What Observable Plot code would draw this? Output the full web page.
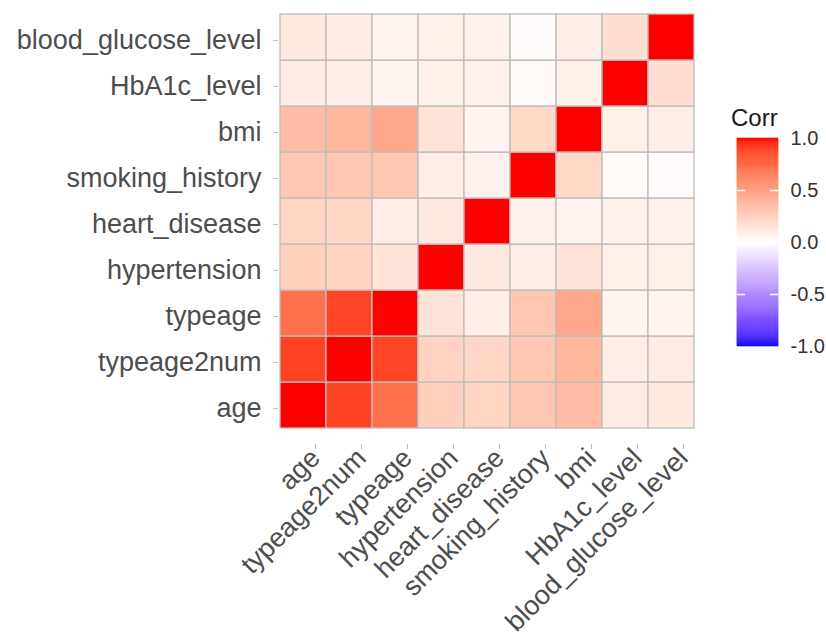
<!DOCTYPE html>
<html>
<head>
<meta charset="utf-8">
<script src="https://cdn.jsdelivr.net/npm/d3@7"></script>
<script src="https://cdn.jsdelivr.net/npm/@observablehq/plot@0.6"></script>
<style>
  html, body { margin: 0; padding: 0; background: #fff; }
  #wrap { position: relative; width: 826px; height: 641px; overflow: hidden; font-family: "Liberation Sans", Arial, sans-serif; }
  #wrap svg { position: absolute; top: 0; }
  #main svg { left: 0; }
  #legend svg { left: 700px; background: transparent; }
  #ltitle { position: absolute; left: 731px; top: 104px; font-size: 24px; color: #1a1a1a; font-family: "Liberation Sans", Arial, sans-serif; }
</style>
</head>
<body>
<div id="wrap">
  <div id="main"></div>
  <div id="legend"></div>
  <div id="ltitle">Corr</div>
</div>
<script>
// Variables (x order left→right, y order bottom→top)
const vars = ["age", "typeage2num", "typeage", "hypertension", "heart_disease",
              "smoking_history", "bmi", "HbA1c_level", "blood_glucose_level"];

// Correlation rows (columns in the same order as vars)
const age                 = [1.00, 0.89, 0.72, 0.25, 0.23, 0.30, 0.36, 0.10, 0.11];
const typeage2num         = [0.89, 1.00, 0.88, 0.24, 0.22, 0.30, 0.38, 0.09, 0.10];
const typeage             = [0.72, 0.88, 1.00, 0.15, 0.09, 0.30, 0.46, 0.05, 0.06];
const hypertension        = [0.25, 0.24, 0.15, 1.00, 0.12, 0.09, 0.15, 0.08, 0.08];
const heart_disease       = [0.23, 0.22, 0.09, 0.12, 1.00, 0.07, 0.06, 0.07, 0.07];
const smoking_history     = [0.30, 0.30, 0.30, 0.09, 0.07, 1.00, 0.21, 0.03, 0.02];
const bmi                 = [0.36, 0.38, 0.46, 0.15, 0.06, 0.21, 1.00, 0.08, 0.09];
const HbA1c_level         = [0.10, 0.09, 0.05, 0.08, 0.07, 0.03, 0.08, 1.00, 0.17];
const blood_glucose_level = [0.11, 0.10, 0.06, 0.08, 0.07, 0.02, 0.09, 0.17, 1.00];

const legendTicks = [-1, -0.5, 0, 0.5, 1];
const legendTitle = "Corr";

const rows = {age, typeage2num, typeage, hypertension, heart_disease,
              smoking_history, bmi, HbA1c_level, blood_glucose_level};
const cells = [];
for (const rname of vars) {
  rows[rname].forEach((v, j) => cells.push({y: rname, x: vars[j], value: v}));
}

const colorScale = {type: "linear", domain: [-1, 0, 1], range: ["blue", "white", "red"], interpolate: "lab"};
const font = "Liberation Sans, Arial, sans-serif";
const gray = "#bebebe";

const main = Plot.plot({
  width: 826,
  height: 641,
  marginLeft: 278,
  marginRight: 131,
  marginTop: 13,
  marginBottom: 213,
  style: {fontFamily: font, background: "white"},
  x: {domain: vars, padding: 0, label: null},
  y: {domain: vars.slice().reverse(), padding: 0, label: null},
  color: colorScale,
  marks: [
    Plot.cell(cells, {x: "x", y: "y", fill: "value", stroke: gray, strokeWidth: 1.3, inset: 0}),
    Plot.axisY({tickSize: 5, tickPadding: 12, fontSize: 27, fill: "#4d4d4d", stroke: gray, label: null, dy: 3}),
    Plot.axisX({tickSize: 5, tickPadding: 4, tickRotate: -45, fontSize: 27, fill: "#4d4d4d", stroke: gray, label: null, dx: 12, dy: 16})
  ]
});
document.getElementById("main").appendChild(main);

// Vertical colour bar legend
const stops = d3.range(-1, 1, 0.01).map(v => ({y1: v, y2: v + 0.01, v: v + 0.005}));
const legend = Plot.plot({
  width: 126,
  height: 400,
  marginLeft: 37,
  marginRight: 48,
  marginTop: 138,
  marginBottom: 54,
  style: {fontFamily: font, background: "transparent"},
  x: {domain: [0, 1], axis: null},
  y: {domain: [-1, 1], label: null},
  color: colorScale,
  marks: [
    Plot.rect(stops, {x1: 0, x2: 1, y1: "y1", y2: "y2", fill: "v", stroke: "v", strokeWidth: 0.6}),
    Plot.ruleY(legendTicks.slice(1, -1), {x1: 0, x2: 0.2, stroke: "white", strokeWidth: 1.5}),
    Plot.ruleY(legendTicks.slice(1, -1), {x1: 0.8, x2: 1, stroke: "white", strokeWidth: 1.5}),
    Plot.axisY(legendTicks, {anchor: "right", tickSize: 0, tickPadding: 12, fontSize: 20, fill: "#333",
      tickFormat: d => d.toFixed(1), textAnchor: "start", label: null})
  ]
});
document.getElementById("legend").appendChild(legend);
</script>
</body>
</html>
